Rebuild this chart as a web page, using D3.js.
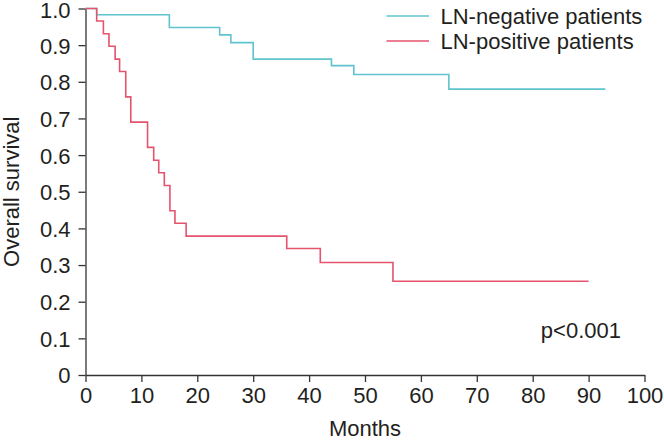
<!DOCTYPE html>
<html>
<head>
<meta charset="utf-8">
<script src="https://cdn.jsdelivr.net/npm/d3@7"></script>
<style>
  html, body { margin: 0; padding: 0; background: #fff; }
  svg { display: block; }
  text { font-family: "Liberation Sans", Arial, Helvetica, sans-serif; fill: #231f20; }
</style>
</head>
<body>
<script>
// ---- data ----
const negTimes = [0, 2, 15, 24, 26, 30, 44, 48, 65, 93];
const negSurv  = [1.0, 0.983, 0.948, 0.928, 0.907, 0.862, 0.844, 0.820, 0.780, 0.780];
const posTimes = [0, 2, 3.2, 4.2, 5.3, 6.1, 7.2, 8.1, 11.1, 12.2, 13.1, 14.1, 15.1, 16, 18, 36, 42, 55, 90];
const posSurv  = [1.0, 0.966, 0.931, 0.897, 0.862, 0.828, 0.759, 0.690, 0.621, 0.586, 0.552, 0.517, 0.448, 0.414, 0.379, 0.345, 0.307, 0.256, 0.256];
const seriesNames = ["LN-negative patients", "LN-positive patients"];
const xTicks = [0, 10, 20, 30, 40, 50, 60, 70, 80, 90, 100];
const yTicks = [0, 0.1, 0.2, 0.3, 0.4, 0.5, 0.6, 0.7, 0.8, 0.9, 1.0];
const pText = "p<0.001";
const xTitle = "Months";
const yTitle = "Overall survival";

// ---- layout ----
const W = 664, H = 442;
const colors = ["#5fc4cd", "#e5536c"];
const axisColor = "#333";
const FS = 22;

const svg = d3.select("body").append("svg").attr("width", W).attr("height", H);

const x = d3.scaleLinear().domain([0, 100]).range([85.5, 644.5]);
const y = d3.scaleLinear().domain([0, 1]).range([375, 8.5]);

// axes
const xAxis = d3.axisBottom(x).tickValues(xTicks).tickSizeInner(7).tickSizeOuter(0).tickPadding(5)
  .tickFormat(d3.format("d"));
const yAxis = d3.axisLeft(y).tickValues(yTicks).tickSizeInner(7).tickSizeOuter(0).tickPadding(8)
  .tickFormat(d => d === 0 ? "0" : d3.format(".1f")(d));

const gx = svg.append("g").attr("transform", `translate(0,${y(0)})`).call(xAxis);
const gy = svg.append("g").attr("transform", `translate(${x(0)},0)`).call(yAxis);
[gx, gy].forEach(g => {
  g.selectAll("path.domain").attr("stroke", axisColor).attr("stroke-width", 1.3);
  g.selectAll(".tick line").attr("stroke", axisColor).attr("stroke-width", 1.3);
  g.selectAll(".tick text").attr("font-size", FS).attr("fill", "#231f20")
    .style("font-family", "'Liberation Sans', Arial, sans-serif");
});
gy.selectAll(".tick text").attr("dy", d => d === 1 ? "0.42em" : "0.36em");

// curves
const line = d3.line().x(d => x(d[0])).y(d => y(d[1])).curve(d3.curveStepAfter);
const series = [d3.zip(negTimes, negSurv), d3.zip(posTimes, posSurv)];
svg.append("g").selectAll("path").data(series).join("path")
  .attr("d", line).attr("fill", "none")
  .attr("stroke", (d, i) => colors[i]).attr("stroke-width", 1.6);

// legend
const lg = svg.append("g");
seriesNames.forEach((name, i) => {
  const ly = 16 + i * 25;
  lg.append("line").attr("x1", 386.5).attr("x2", 429).attr("y1", ly).attr("y2", ly)
    .attr("stroke", colors[i]).attr("stroke-width", 1.6);
  lg.append("text").attr("x", 440.5).attr("y", ly).attr("dy", "0.35em")
    .attr("font-size", FS).text(name);
});

// p-value
svg.append("text").attr("x", 621).attr("y", 338).attr("text-anchor", "end")
  .attr("font-size", FS).text(pText);

// axis titles
svg.append("text").attr("x", (x(0) + x(100)) / 2).attr("y", 436).attr("text-anchor", "middle")
  .attr("font-size", FS).text(xTitle);
svg.append("text").attr("transform", `translate(19,${(y(0) + y(1)) / 2}) rotate(-90)`)
  .attr("text-anchor", "middle").attr("font-size", FS).text(yTitle);
</script>
</body>
</html>
